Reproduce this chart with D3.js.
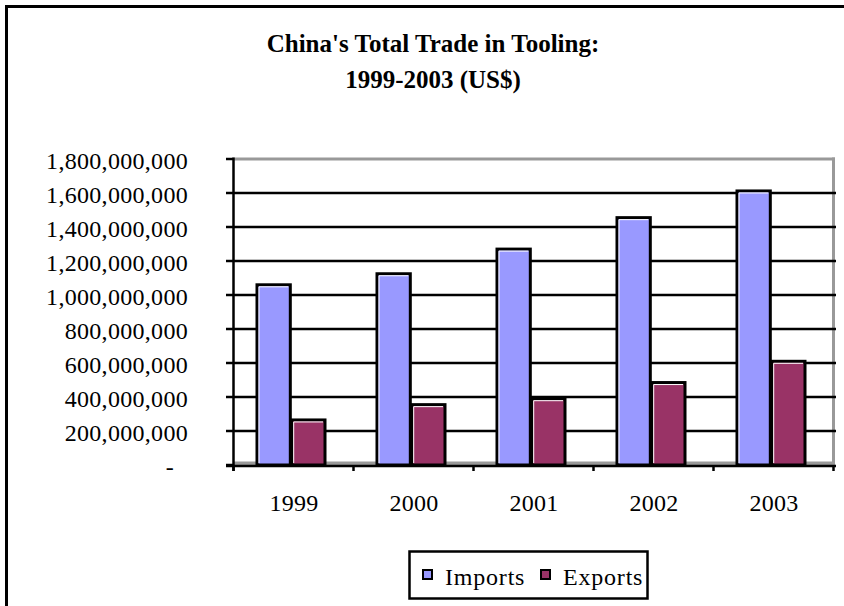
<!DOCTYPE html>
<html>
<head>
<meta charset="utf-8">
<script src="https://cdn.jsdelivr.net/npm/d3@7/dist/d3.min.js"></script>
</head>
<body style="margin:0">
<svg id="chart" width="844" height="606"></svg>
<script>
// Trade values, US$
const years = ["1999", "2000", "2001", "2002", "2003"];
const imports = [1060000000, 1125000000, 1270000000, 1455000000, 1612000000];
const exports = [265000000, 355000000, 390000000, 485000000, 610000000];
const seriesNames = ["Imports", "Exports"];
const seriesColors = ["#9999FF", "#993366"];
const yTicks = [0, 200000000, 400000000, 600000000, 800000000, 1000000000,
                1200000000, 1400000000, 1600000000, 1800000000];
const titleLines = ["China's Total Trade in Tooling:", "1999-2003 (US$)"];

const svg = d3.select("#chart").style("display", "block");
const W = 844, H = 606;
const FONT = '"Liberation Serif"';

svg.append("rect").attr("width", W).attr("height", H).attr("fill", "#fff");

// outer frame (top and left edges)
svg.append("path")
  .attr("d", `M6.5,${H} V6.5 H${W}`)
  .attr("fill", "none").attr("stroke", "#000").attr("stroke-width", 3);

// title
svg.append("g").selectAll("text").data(titleLines).join("text")
  .attr("x", 433).attr("y", (d, i) => 52 + i * 36)
  .attr("text-anchor", "middle")
  .style("font-family", FONT)
  .attr("font-weight", "bold").attr("font-size", 25)
  .text(d => d);

const plot = { left: 233, right: 833, top: 159, bottom: 465 };

const y = d3.scaleLinear().domain([0, 1800000000]).range([plot.bottom, plot.top]);
const x = d3.scaleBand().domain(years).range([plot.left, plot.right]);
const xs = d3.scaleBand().domain(seriesNames).range([0, 68]).paddingInner(0.04);

// back wall: top edge and right edge
svg.append("line")
  .attr("x1", plot.left).attr("x2", plot.right + 2)
  .attr("y1", y(1800000000)).attr("y2", y(1800000000))
  .attr("stroke", "#999").attr("stroke-width", 3);
svg.append("line")
  .attr("x1", plot.right + 0.5).attr("x2", plot.right + 0.5)
  .attr("y1", plot.top - 1.5).attr("y2", plot.bottom)
  .attr("stroke", "#999").attr("stroke-width", 3);

// gridlines
svg.append("g").selectAll("line")
  .data(yTicks.filter(v => v > 0 && v < 1800000000)).join("line")
  .attr("x1", plot.left).attr("x2", plot.right + 3)
  .attr("y1", d => y(d)).attr("y2", d => y(d))
  .attr("stroke", "#000").attr("stroke-width", 2.5);

// floor
svg.append("rect")
  .attr("x", plot.left).attr("y", plot.bottom - 3.5)
  .attr("width", plot.right - plot.left + 2).attr("height", 3.5)
  .attr("fill", "#999");

// bars
const rows = years.map((yr, i) => ({ year: yr, values: [imports[i], exports[i]] }));
const groups = svg.append("g").selectAll("g").data(rows).join("g")
  .attr("transform", d => `translate(${x(d.year) + x.bandwidth() / 2 - 36},0)`);

const bars = groups.selectAll("g").data(d => d.values.map((v, k) => ({ v, k }))).join("g");
bars.append("rect")
  .attr("x", d => xs(seriesNames[d.k]))
  .attr("y", d => y(d.v))
  .attr("width", xs.bandwidth())
  .attr("height", d => plot.bottom - y(d.v))
  .attr("fill", d => seriesColors[d.k])
  .attr("stroke", "#000").attr("stroke-width", 3);
// bevel highlight on the top and left inner edges
bars.append("path")
  .attr("d", d => {
    const x0 = xs(seriesNames[d.k]) + 2, y0 = y(d.v) + 2;
    return `M${x0},${plot.bottom - 2} V${y0} H${x0 + xs.bandwidth() - 4}`;
  })
  .attr("fill", "none").attr("stroke", "#fff").attr("stroke-width", 1);

// value axis
svg.append("line")
  .attr("x1", plot.left + 0.5).attr("x2", plot.left + 0.5)
  .attr("y1", plot.top - 1.5).attr("y2", plot.bottom + 6)
  .attr("stroke", "#000").attr("stroke-width", 2.5);
svg.append("g").selectAll("line").data(yTicks).join("line")
  .attr("x1", plot.left - 7).attr("x2", plot.left)
  .attr("y1", d => y(d)).attr("y2", d => y(d))
  .attr("stroke", "#000").attr("stroke-width", 2.5);

const fmt = d3.format(",");
svg.append("g").selectAll("text").data(yTicks).join("text")
  .attr("x", d => d === 0 ? 174 : 188)
  .attr("y", d => y(d) + 10)
  .attr("text-anchor", "end")
  .style("font-family", FONT)
  .attr("font-size", 24).attr("letter-spacing", 0.3)
  .text(d => d === 0 ? "-" : fmt(d));

// category axis
svg.append("line")
  .attr("x1", plot.left - 7).attr("x2", plot.right + 3)
  .attr("y1", plot.bottom + 1).attr("y2", plot.bottom + 1)
  .attr("stroke", "#000").attr("stroke-width", 2.5);
const bounds = years.map(d => x(d)).concat([plot.right]);
svg.append("g").selectAll("line").data(bounds).join("line")
  .attr("x1", d => d + 0.5).attr("x2", d => d + 0.5)
  .attr("y1", plot.bottom + 1).attr("y2", plot.bottom + 6)
  .attr("stroke", "#000").attr("stroke-width", 2.5);
svg.append("g").selectAll("text").data(years).join("text")
  .attr("x", d => x(d) + x.bandwidth() / 2 + 1)
  .attr("y", 511)
  .attr("text-anchor", "middle")
  .style("font-family", FONT)
  .attr("font-size", 24).attr("letter-spacing", 0.3)
  .text(d => d);

// legend
const lg = svg.append("g");
lg.append("rect")
  .attr("x", 409.5).attr("y", 551.5).attr("width", 238).attr("height", 47)
  .attr("fill", "#fff").attr("stroke", "#000").attr("stroke-width", 2.5);
const lx = [423, 541];
const items = lg.selectAll("g").data(seriesNames).join("g")
  .attr("transform", (d, i) => `translate(${lx[i]},570)`);
items.append("rect")
  .attr("width", 9).attr("height", 9)
  .attr("fill", (d, i) => seriesColors[i])
  .attr("stroke", "#000").attr("stroke-width", 2);
items.append("text")
  .attr("x", 22).attr("y", 15)
  .style("font-family", FONT)
  .attr("font-size", 24).attr("letter-spacing", 0.8)
  .text(d => d);
</script>
</body>
</html>
